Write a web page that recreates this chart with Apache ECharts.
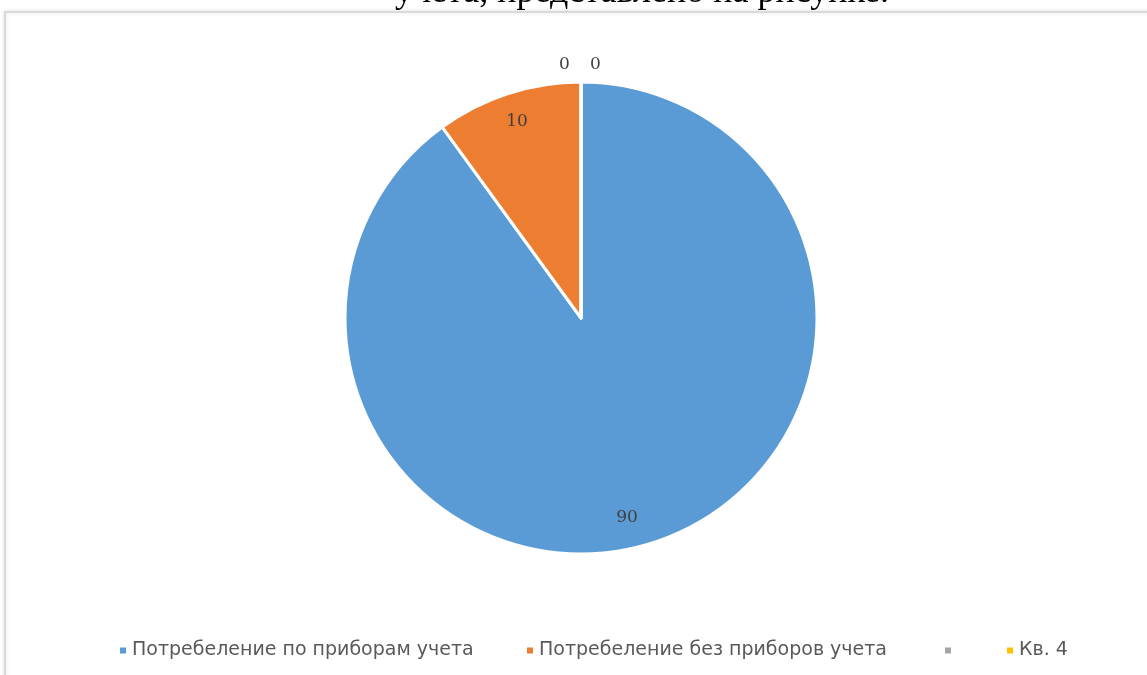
<!DOCTYPE html>
<html>
<head>
<meta charset="utf-8">
<script src="https://cdn.jsdelivr.net/npm/echarts@6/dist/echarts.min.js"></script>
<style>
html, body { margin: 0; padding: 0; background: #fff; }
#chart { width: 1147px; height: 675px; }
</style>
</head>
<body>
<div id="chart"></div>
<script>
var names = ['Потребеление по приборам учета', 'Потребеление без приборов учета', ' ', 'Кв. 4'];
var values = [90, 10, 0, 0];
var colors = ['#5b9bd5', '#ed7d31', '#a5a5a5', '#ffc000'];
var legendLeft = [113, 520, 938, 1000];

var myChart = echarts.init(document.getElementById('chart'));

var pieData = names.map(function (n, i) {
    return { name: n, value: values[i], itemStyle: { color: colors[i] } };
});

var labelData = names.map(function (n, i) {
    var item = { name: n, value: values[i], itemStyle: { color: 'rgba(0,0,0,0)' } };
    if (values[i] === 0) {
        item.label = { position: 'outside', color: '#404040' };
        item.labelLine = { show: false, length: 6, length2: 0 };
    }
    return item;
});

var legends = names.map(function (n, i) {
    return {
        data: [n],
        left: legendLeft[i],
        top: 636,
        orient: 'horizontal',
        icon: 'rect',
        itemWidth: 8,
        itemHeight: 8,
        itemGap: 6,
        selectedMode: false,
        textStyle: { color: '#595959', fontSize: 19, fontFamily: 'DejaVu Sans' }
    };
});

option = {
    animation: false,
    backgroundColor: '#fff',
    legend: legends,
    graphic: [
        {
            type: 'rect',
            shape: { x: 5, y: 12, width: 1300, height: 800 },
            style: { fill: '#fff', stroke: '#d9d9d9', lineWidth: 2, shadowBlur: 4, shadowColor: 'rgba(0,0,0,0.10)' },
            z: -10
        },
        {
            type: 'text',
            style: {
                text: 'учета, представлено на рисунке.',
                x: 642, y: 11,
                textAlign: 'center',
                textVerticalAlign: 'bottom',
                font: '36px "Liberation Serif"',
                fill: '#000'
            },
            z: 10
        }
    ],
    series: [
        {
            type: 'pie',
            center: [581, 318],
            radius: [0, 236],
            startAngle: 90,
            clockwise: true,
            silent: true,
            label: { show: false },
            labelLine: { show: false },
            itemStyle: { borderColor: '#fff', borderWidth: 3 },
            data: pieData
        },
        {
            type: 'pie',
            center: [581, 318],
            radius: [172, 236],
            startAngle: 90,
            clockwise: true,
            silent: true,
            avoidLabelOverlap: false,
            label: {
                show: true,
                position: 'inside',
                formatter: '{c}',
                color: '#404040',
                fontSize: 17,
                fontFamily: 'DejaVu Serif'
            },
            labelLayout: function (p) {
                if (values[p.dataIndex] === 0) {
                    return { dx: p.dataIndex === 2 ? -27 : 4, dy: -11 };
                }
                if (p.dataIndex === 0) {
                    return { dx: -18, dy: 3 };
                }
            },
            itemStyle: { borderWidth: 0 },
            data: labelData
        }
    ]
};
myChart.setOption(option);
</script>
</body>
</html>
